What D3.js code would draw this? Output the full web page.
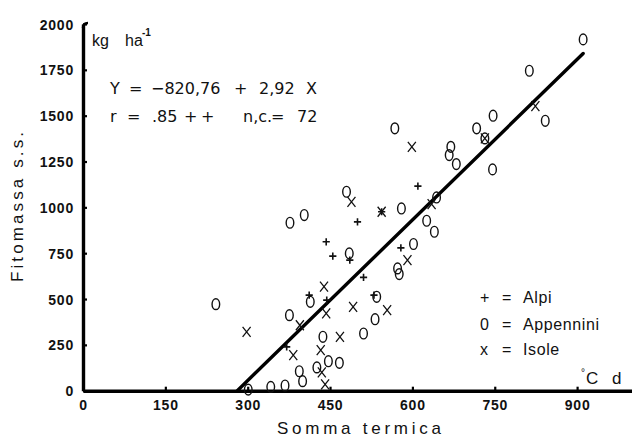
<!DOCTYPE html>
<html>
<head>
<meta charset="utf-8">
<script src="https://cdn.jsdelivr.net/npm/d3@7"></script>
<style>
  html, body { margin: 0; padding: 0; background: #fff; }
  svg { display: block; }
  text { font-family: "Liberation Sans", Arial, sans-serif; fill: #111; }
</style>
</head>
<body>
<script>
// ---- data ----
const xTicks = [0, 150, 300, 450, 600, 750, 900];
const yTicks = [0, 250, 500, 750, 1000, 1250, 1500, 1750, 2000];

// Appennini (O): [somma termica, fitomassa]
const appennini = [
  [242, 472], [376, 412], [394, 106], [400, 52], [301, 6], [342, 21], [368, 28],
  [437, 294], [447, 161], [467, 152], [426, 127], [414, 485], [377, 916], [403, 958],
  [480, 1085], [580, 994], [568, 1431], [670, 1330], [667, 1285], [680, 1236],
  [644, 1054], [626, 927], [640, 867], [485, 749], [602, 800], [573, 667], [576, 636],
  [535, 512], [532, 390], [511, 312], [717, 1431], [732, 1376], [747, 1500],
  [746, 1207], [813, 1745], [842, 1472], [911, 1916]
];
// Alpi (+)
const alpi = [
  [371, 239], [412, 521], [444, 494], [443, 812], [455, 734], [486, 712],
  [511, 618], [530, 521], [579, 779], [500, 921], [544, 976], [610, 1116]
];
// Isole (x)
const isole = [
  [298, 321], [395, 357], [383, 194], [468, 294], [433, 221], [435, 100], [441, 35],
  [439, 568], [443, 422], [492, 457], [554, 439], [489, 1030], [544, 976],
  [599, 1330], [635, 1018], [591, 712], [732, 1376], [824, 1552]
];
// regression Y = -820.76 + 2.92 X
const intercept = -820.76, slope = 2.92;
const regXRange = [281.1, 911];

const W = 632, H = 437;
const svg = d3.select("body").append("svg").attr("width", W).attr("height", H);

const x = d3.scaleLinear().domain([0, 1000]).range([83, 632]);
const y = d3.scaleLinear().domain([0, 2000]).range([390.7, 24]);

// ---- axes ----
const gx = svg.append("g").attr("transform", `translate(0,${y(0)})`)
  .call(d3.axisBottom(x).tickValues(xTicks).tickFormat(d3.format("d"))
    .tickSizeInner(-4).tickSizeOuter(0).tickPadding(9));
const gy = svg.append("g").attr("transform", `translate(${x(0)},0)`)
  .call(d3.axisLeft(y).tickValues(yTicks).tickFormat(d3.format("d"))
    .tickSizeInner(-4).tickSizeOuter(0).tickPadding(9));

[gx, gy].forEach(g => {
  g.select(".domain").attr("stroke", "#000").attr("stroke-width", 3.4);
  g.selectAll(".tick line").attr("stroke", "#000").attr("stroke-width", 2.2);
  g.selectAll(".tick text")
    .attr("font-size", 14).attr("font-weight", "bold")
    .attr("letter-spacing", 0.8).attr("fill", "#111");
});
gy.selectAll(".tick text").attr("dy", "0.36em");

// small hook at top of y axis
svg.append("path")
  .attr("d", `M${x(0)},${y(2000) + 4} Q${x(0)},${y(2000) - 1} ${x(0) + 5},${y(2000) - 1}`)
  .attr("fill", "none").attr("stroke", "#000").attr("stroke-width", 2.5);

// ---- regression line ----
svg.append("line")
  .attr("x1", x(regXRange[0])).attr("y1", y(intercept + slope * regXRange[0]))
  .attr("x2", x(regXRange[1])).attr("y2", y(intercept + slope * regXRange[1]))
  .attr("stroke", "#000").attr("stroke-width", 3.4).attr("stroke-linecap", "round");

// ---- points ----
const pts = svg.append("g").attr("fill", "none").attr("stroke", "#111");
pts.selectAll("ellipse.app").data(appennini).join("ellipse")
  .attr("class", "app")
  .attr("cx", d => x(d[0])).attr("cy", d => y(d[1]))
  .attr("rx", 3.8).attr("ry", 5.4).attr("stroke-width", 1.4);
pts.selectAll("path.alpi").data(alpi).join("path")
  .attr("class", "alpi")
  .attr("d", d => { const cx = x(d[0]), cy = y(d[1]), s = 3.6;
    return `M${cx - s},${cy}H${cx + s}M${cx},${cy - s}V${cy + s}`; })
  .attr("stroke-width", 1.6);
pts.selectAll("path.isole").data(isole).join("path")
  .attr("class", "isole")
  .attr("d", d => { const cx = x(d[0]), cy = y(d[1]), w = 4, h = 5;
    return `M${cx - w},${cy - h}L${cx + w},${cy + h}M${cx + w},${cy - h}L${cx - w},${cy + h}`; })
  .attr("stroke-width", 1.3);

// ---- texts ----
// unit label
const unit = svg.append("text").attr("x", 92).attr("y", 46).attr("font-size", 16);
unit.append("tspan").text("kg");
unit.append("tspan").attr("x", 125).text("ha");
unit.append("tspan").attr("x", 142).attr("dy", -10).attr("font-size", 10).attr("font-weight", "bold").text("-1");

// equation lines: [text, left]
function pieces(yy, list) {
  list.forEach(([t, xx]) => {
    svg.append("text").attr("x", xx).attr("y", yy)
      .style("font-family", "'DejaVu Sans', sans-serif").attr("font-size", 16).text(t);
  });
}
pieces(93.5, [["Y", 110], ["=", 129], ["\u2212820,76", 151], ["+", 234], ["2,92", 259], ["X", 306]]);
pieces(121.5, [["r", 110], ["=", 127], [".85", 152], ["+", 184], ["+", 201], ["n,c.", 243], ["=", 271], ["72", 297]]);

// legend
const legend = [["+", "Alpi", 303], ["0", "Appennini", 330], ["x", "Isole", 355]];
legend.forEach(([sym, lab, yy]) => {
  svg.append("text").attr("x", 480).attr("y", yy).attr("font-size", 16).text(sym);
  svg.append("text").attr("x", 502).attr("y", yy).attr("font-size", 16).text("=");
  svg.append("text").attr("x", 523).attr("y", yy).attr("font-size", 16).attr("letter-spacing", 0.6).text(lab);
});

// unit of x
const xu = svg.append("text").attr("x", 581).attr("y", 384).attr("font-size", 17);
xu.append("tspan").attr("dy", -8).attr("font-size", 10).text("\u00b0");
xu.append("tspan").attr("x", 586).attr("dy", 8).text("C");
xu.append("tspan").attr("x", 612).text("d");

// axis titles
svg.append("text").attr("x", 277).attr("y", 434).attr("font-size", 17)
  .attr("textLength", 164).attr("lengthAdjust", "spacing").text("Somma termica");
svg.append("text").attr("transform", "translate(23,282) rotate(-90)")
  .attr("font-size", 17).attr("textLength", 150).attr("lengthAdjust", "spacing")
  .text("Fitomassa s.s.");
</script>
</body>
</html>
